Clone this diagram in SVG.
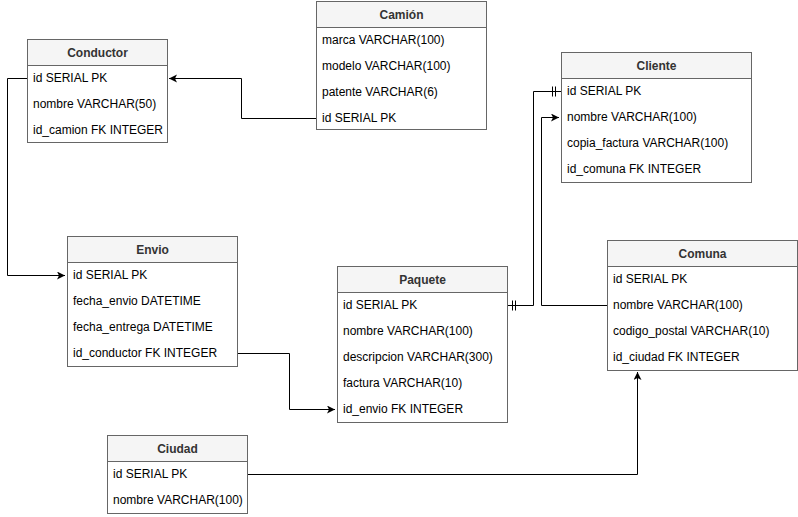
<svg xmlns="http://www.w3.org/2000/svg" width="798" height="517" viewBox="0 0 798 517">
<style>
.box{fill:#ffffff;stroke:#666666;stroke-width:1}
.hd{fill:#f5f5f5;stroke:#666666;stroke-width:1}
.t{font-family:"Liberation Sans",Arial,sans-serif;font-size:12px;fill:#000000}
.h{font-family:"Liberation Sans",Arial,sans-serif;font-size:12px;font-weight:bold;fill:#333333;text-anchor:middle}
.c{fill:none;stroke:#000000;stroke-width:1}
</style>
<defs>
<marker id="arr" markerWidth="10" markerHeight="10" refX="8" refY="4" orient="auto" markerUnits="userSpaceOnUse">
<path d="M0,0 L8,4 L0,8 L2,4 Z" fill="#000"/>
</marker>
</defs>
<rect width="798" height="517" fill="#ffffff"/>
<g id="connectors">
<path class="c" d="M316.5,118.5 H241.5 V78.5 H169" marker-end="url(#arr)"/>
<path class="c" d="M27.5,78.5 H7.5 V275.5 H65" marker-end="url(#arr)"/>
<path class="c" d="M237.5,353.5 H289.5 V409.5 H335" marker-end="url(#arr)"/>
<path class="c" d="M507.5,305.5 H533.5 V91.5 H561"/>
<path class="c" d="M512.5,300.5 V310.5 M515.5,300.5 V310.5"/>
<path class="c" d="M552.5,86.5 V96.5 M555.5,86.5 V96.5"/>
<path class="c" d="M607.5,305.5 H541.5 V117.5 H559" marker-end="url(#arr)"/>
<path class="c" d="M247.5,474.5 H637.5 V372" marker-end="url(#arr)"/>
</g>
<g id="camion">
<rect class="box" x="316.5" y="1.5" width="170" height="128"/>
<rect class="hd" x="316.5" y="1.5" width="170" height="26"/>
<text class="h" x="401.5" y="19">Camión</text>
<text class="t" x="322" y="44">marca VARCHAR(100)</text>
<text class="t" x="322" y="70">modelo VARCHAR(100)</text>
<text class="t" x="322" y="96">patente VARCHAR(6)</text>
<text class="t" x="322" y="122">id SERIAL PK</text>
</g>
<g id="conductor">
<rect class="box" x="27.5" y="39.5" width="140" height="103"/>
<rect class="hd" x="27.5" y="39.5" width="140" height="26"/>
<text class="h" x="97.5" y="57">Conductor</text>
<text class="t" x="33" y="82">id SERIAL PK</text>
<text class="t" x="33" y="108">nombre VARCHAR(50)</text>
<text class="t" x="33" y="134">id_camion FK INTEGER</text>
</g>
<g id="cliente">
<rect class="box" x="561.5" y="52.5" width="190" height="130"/>
<rect class="hd" x="561.5" y="52.5" width="190" height="26"/>
<text class="h" x="656.5" y="70">Cliente</text>
<text class="t" x="567" y="95">id SERIAL PK</text>
<text class="t" x="567" y="121">nombre VARCHAR(100)</text>
<text class="t" x="567" y="147">copia_factura VARCHAR(100)</text>
<text class="t" x="567" y="173">id_comuna FK INTEGER</text>
</g>
<g id="envio">
<rect class="box" x="67.5" y="236.5" width="170" height="130"/>
<rect class="hd" x="67.5" y="236.5" width="170" height="26"/>
<text class="h" x="152.5" y="254">Envio</text>
<text class="t" x="73" y="279">id SERIAL PK</text>
<text class="t" x="73" y="305">fecha_envio DATETIME</text>
<text class="t" x="73" y="331">fecha_entrega DATETIME</text>
<text class="t" x="73" y="357">id_conductor FK INTEGER</text>
</g>
<g id="paquete">
<rect class="box" x="337.5" y="266.5" width="170" height="156"/>
<rect class="hd" x="337.5" y="266.5" width="170" height="26"/>
<text class="h" x="422.5" y="284">Paquete</text>
<text class="t" x="343" y="309">id SERIAL PK</text>
<text class="t" x="343" y="335">nombre VARCHAR(100)</text>
<text class="t" x="343" y="361">descripcion VARCHAR(300)</text>
<text class="t" x="343" y="387">factura VARCHAR(10)</text>
<text class="t" x="343" y="413">id_envio FK INTEGER</text>
</g>
<g id="comuna">
<rect class="box" x="607.5" y="240.5" width="190" height="130"/>
<rect class="hd" x="607.5" y="240.5" width="190" height="26"/>
<text class="h" x="702.5" y="258">Comuna</text>
<text class="t" x="613" y="283">id SERIAL PK</text>
<text class="t" x="613" y="309">nombre VARCHAR(100)</text>
<text class="t" x="613" y="335">codigo_postal VARCHAR(10)</text>
<text class="t" x="613" y="361">id_ciudad FK INTEGER</text>
</g>
<g id="ciudad">
<rect class="box" x="107.5" y="435.5" width="140" height="78"/>
<rect class="hd" x="107.5" y="435.5" width="140" height="26"/>
<text class="h" x="177.5" y="453">Ciudad</text>
<text class="t" x="113" y="478">id SERIAL PK</text>
<text class="t" x="113" y="504">nombre VARCHAR(100)</text>
</g>
</svg>
